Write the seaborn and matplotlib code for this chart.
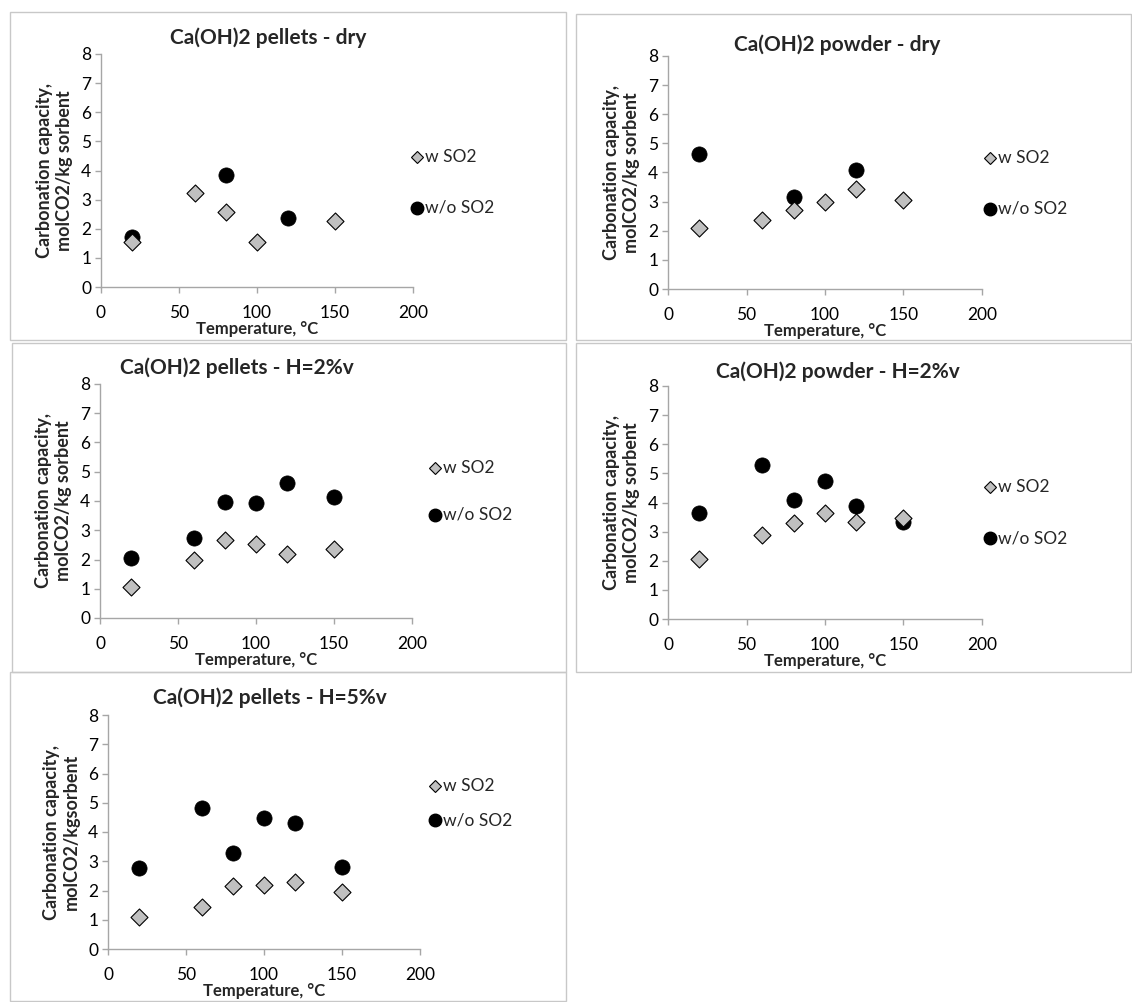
import pandas as pd
import matplotlib.pyplot as plt
import seaborn as sns
from matplotlib.patches import Rectangle
from matplotlib.lines import Line2D

# Data
temps_all = [20, 60, 80, 100, 120, 150]

p_dry_w_x = [20, 60, 80, 100, 150]
p_dry_w_y = [1.55, 3.22, 2.57, 1.55, 2.28]
p_dry_wo_x = [20, 80, 120]
p_dry_wo_y = [1.72, 3.86, 2.38]

pw_dry_w_y = [2.10, 2.38, 2.70, 3.00, 3.42, 3.07]
pw_dry_wo_x = [20, 80, 120]
pw_dry_wo_y = [4.62, 3.17, 4.08]

p_h2_w_y = [1.05, 1.98, 2.67, 2.53, 2.18, 2.37]
p_h2_wo_y = [2.05, 2.72, 3.95, 3.93, 4.63, 4.12]

pw_h2_w_y = [2.07, 2.90, 3.30, 3.65, 3.32, 3.48]
pw_h2_wo_y = [3.63, 5.30, 4.10, 4.73, 3.88, 3.32]

p_h5_w_y = [1.10, 1.45, 2.15, 2.18, 2.28, 1.95]
p_h5_wo_y = [2.77, 4.82, 3.28, 4.47, 4.30, 2.80]

titles = ['Ca(OH)2 pellets - dry', 'Ca(OH)2 powder - dry',
          'Ca(OH)2 pellets - H=2%v', 'Ca(OH)2 powder - H=2%v',
          'Ca(OH)2 pellets - H=5%v']
ylabels = ['Carbonation capacity,\nmolCO2/kg sorbent'] * 4 + ['Carbonation capacity,\nmolCO2/kgsorbent']
series_names = ['w SO2', 'w/o SO2']

sns.set_theme(style='white')
plt.rcParams['font.family'] = ['Lato', 'DejaVu Sans']

fig = plt.figure(figsize=(11.32, 10.02), dpi=100)
W, H = 1132, 1002

# panel frames (pixels: x0, y0, x1, y1)
frames = [(10, 12, 566, 340), (576, 14, 1131, 340), (12, 343, 566, 672),
          (576, 343, 1131, 672), (10, 672, 566, 1001)]
for x0, y0, x1, y1 in frames:
    fig.patches.append(Rectangle((x0 / W, 1 - y1 / H), (x1 - x0) / W, (y1 - y0) / H,
                                 transform=fig.transFigure, fill=False,
                                 edgecolor='#c8c8c8', linewidth=1.0))

# axes boxes (pixels: left, top, right, bottom)
boxes = [(101, 54, 413, 287), (668, 56, 982, 289), (100, 384, 412, 618),
         (668, 386, 982, 619), (108, 715, 420, 949)]
title_pos = [(268, 38), (837, 45), (237, 368), (838, 372), (270, 698)]
legend_pos = [(417, 157), (990, 158), (435, 468), (990, 487), (435, 786)]
legend_gap = [51, 51, 47, 51, 34]

panels = [
    (p_dry_w_x, p_dry_w_y, p_dry_wo_x, p_dry_wo_y),
    (temps_all, pw_dry_w_y, pw_dry_wo_x, pw_dry_wo_y),
    (temps_all, p_h2_w_y, temps_all, p_h2_wo_y),
    (temps_all, pw_h2_w_y, temps_all, pw_h2_wo_y),
    (temps_all, p_h5_w_y, temps_all, p_h5_wo_y),
]

for i, (wx, wy, wox, woy) in enumerate(panels):
    l, t, r, b = boxes[i]
    ax = fig.add_axes([l / W, 1 - b / H, (r - l) / W, (b - t) / H])
    df = pd.DataFrame({
        'T': list(wox) + list(wx),
        'cap': list(woy) + list(wy),
        'series': [series_names[1]] * len(wox) + [series_names[0]] * len(wx),
    })
    sns.scatterplot(data=df[df.series == 'w/o SO2'], x='T', y='cap', ax=ax,
                    color='black', marker='o', s=120, edgecolor='black', linewidth=0.5,
                    legend=False, zorder=2)
    sns.scatterplot(data=df[df.series == 'w SO2'], x='T', y='cap', ax=ax,
                    color='#c0c0c0', marker='D', s=75, edgecolor='black', linewidth=0.8,
                    legend=False, zorder=3)
    ax.set_xlim(0, 200)
    ax.set_ylim(0, 8)
    ax.set_xticks([0, 50, 100, 150, 200])
    ax.set_yticks(range(0, 9))
    for s in ['top', 'right']:
        ax.spines[s].set_visible(False)
    for s in ['left', 'bottom']:
        ax.spines[s].set_color('#a6a6a6')
        ax.spines[s].set_linewidth(1.0)
    ax.tick_params(axis='both', which='major', direction='out', length=4, width=1,
                   color='#a6a6a6', labelsize=12.5, labelcolor='black', pad=3,
                   bottom=True, left=True)
    ax.tick_params(axis='x', pad=9)
    ax.set_xlabel('Temperature, °C', fontsize=12, fontweight='bold', labelpad=0)
    ax.set_ylabel(ylabels[i], fontsize=13, fontweight='bold', labelpad=6,
                  linespacing=1.2)

    # title centred over the whole panel, not just the plot area
    tx, ty = title_pos[i]
    fig.text(tx / W, 1 - ty / H, titles[i], fontsize=15, fontweight='bold',
             ha='center', va='center')

    # legend placed to the right of the plot area
    lx, ly = legend_pos[i]
    handles = [
        Line2D([], [], marker='D', linestyle='', markerfacecolor='#c0c0c0',
               markeredgecolor='black', markersize=6, markeredgewidth=0.8),
        Line2D([], [], marker='o', linestyle='', markerfacecolor='black',
               markeredgecolor='black', markersize=9),
    ]
    for k, (h, name) in enumerate(zip(handles, series_names)):
        y = ly + k * legend_gap[i]
        fig.add_artist(Line2D([lx / W], [1 - y / H], transform=fig.transFigure,
                              marker=h.get_marker(), linestyle='',
                              markerfacecolor=h.get_markerfacecolor(),
                              markeredgecolor='black',
                              markersize=h.get_markersize(),
                              markeredgewidth=h.get_markeredgewidth()))
        fig.text((lx + 8) / W, 1 - y / H, name, fontsize=12.5, va='center', ha='left')

fig.savefig('out.png', dpi=100)
